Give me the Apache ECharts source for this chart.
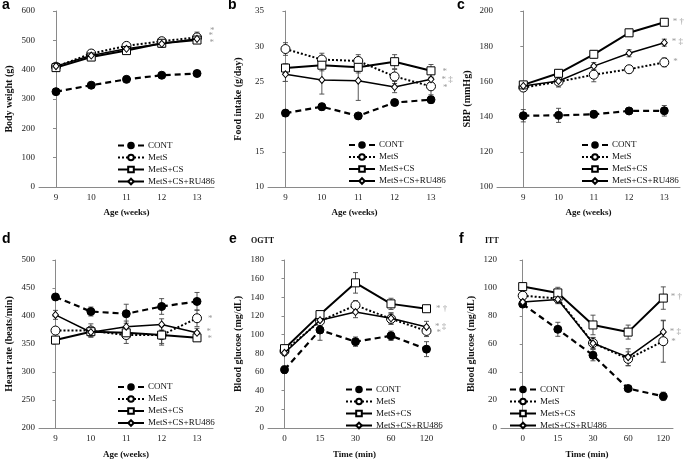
<!DOCTYPE html>
<html>
<head>
<meta charset="utf-8">
<script src="https://cdn.jsdelivr.net/npm/echarts@6/dist/echarts.min.js"></script>
<style>
  html, body { margin: 0; padding: 0; background: #fff; }
  #chart { width: 685px; height: 460px; }
</style>
</head>
<body>
<div id="chart"></div>
<script>
// groups and category labels
const groups = ['CONT', 'MetS', 'MetS+CS', 'MetS+CS+RU486'];
const weekLabels = ['9', '10', '11', '12', '13'];
const timeLabels = ['0', '15', '30', '60', '120'];

// a - body weight (g), rows follow groups
const bwMean = [
    [325, 347, 367, 381, 387],
    [410, 455, 481, 497, 510],
    [407, 443, 465, 490, 501],
    [412, 448, 471, 488, 505]
];
const bwErr = [
    [5, 6, 6, 6, 6],
    [8, 8, 10, 10, 18],
    [6, 8, 10, 14, 10],
    [6, 6, 8, 8, 10]
];
const bwSig = ['', '*', '*', '*'];

// b - food intake (g/day)
const fiMean = [
    [20.5, 21.4, 20.1, 22.0, 22.4],
    [29.6, 28.1, 27.9, 25.7, 24.3],
    [26.9, 27.3, 27.0, 27.8, 26.5],
    [26.0, 25.2, 25.1, 24.2, 25.3]
];
const fiErr = [
    [0.3, 0.5, 0.3, 0.4, 0.5],
    [0.9, 0.9, 0.9, 1.0, 1.2],
    [0.6, 0.8, 0.8, 1.0, 0.9],
    [1.0, 2.0, 2.8, 0.8, 1.2]
];
const fiSig = ['', '*', '*', '* \u2021'];

// c - SBP (mmHg)
const sbpMean = [
    [140.5, 140.7, 141.3, 143.2, 143.3],
    [156.5, 159.8, 163.8, 166.9, 170.8],
    [158.0, 164.6, 175.4, 187.6, 193.6],
    [157.4, 160.2, 168.7, 176.0, 182.0]
];
const sbpErr = [
    [3.5, 4, 2, 1.5, 3],
    [2, 3, 4, 2, 2.5],
    [2, 2, 2, 2, 2],
    [2, 2, 2, 2, 2]
];
const sbpSig = ['', '*', '* \u2020', '* \u2021'];

// d - heart rate (beats/min)
const hrMean = [
    [434, 408, 404, 417, 426],
    [374, 374, 366, 366, 396],
    [357, 372, 370, 366, 361],
    [402, 371, 381, 385, 370]
];
const hrErr = [
    [5, 8, 17, 14, 16],
    [6, 12, 15, 15, 15],
    [5, 8, 10, 18, 5],
    [8, 8, 10, 10, 8]
];
const hrSig = ['', '*', '*', '*'];

// e - OGTT blood glucose (mg/dL)
const ogttMean = [
    [62.5, 105, 92.5, 98.8, 84.5],
    [82.5, 114.5, 131.5, 117, 104],
    [85.0, 121.5, 155.5, 133, 127.8],
    [80.5, 115.5, 124.2, 117.5, 108.3]
];
const ogttErr = [
    [4, 11, 5, 5, 8],
    [3, 5, 5, 6, 6],
    [4, 4, 11, 6, 3],
    [3, 4, 6, 6, 6]
];
const ogttSig = ['', '*', '* \u2020', '* \u2021'];

// f - ITT blood glucose (mg/dL)
const ittMean = [
    [88.5, 70.5, 52, 28.2, 22.6],
    [94.5, 92.5, 60.7, 49.4, 62],
    [101, 96.5, 73.6, 68.5, 92.8],
    [90, 91.8, 60.5, 50.6, 68.6]
];
const ittErr = [
    [2, 5, 4, 2, 3],
    [3, 3, 4, 5, 15],
    [2, 4, 7, 5, 8],
    [3, 3, 4, 6, 8]
];
const ittSig = ['', '*', '* \u2020', '* \u2021'];

const SERIF = 'Liberation Serif';

// layout of each panel (pixel positions)
const panels = [
    { letter: 'a', lx: 2, ly: 6, mean: bwMean, err: bwErr, sig: bwSig, cats: weekLabels,
      xName: 'Age (weeks)', yName: 'Body weight (g)', yMin: 0, yMax: 600, yStep: 100,
      grid: { left: 39, top: 11, width: 175, height: 176 }, xMin: -0.482, xMax: 4.482,
      legend: { left: 117, top: 141 }, sigDist: 8, sigDy: [0, -7, 3, -3] },
    { letter: 'b', lx: 228, ly: 6, mean: fiMean, err: fiErr, sig: fiSig, cats: weekLabels,
      xName: 'Age (weeks)', yName: 'Food intake (g/day)', yMin: 10, yMax: 35, yStep: 5,
      grid: { left: 268, top: 11, width: 173, height: 176 }, xMin: -0.481, xMax: 4.275,
      legend: { left: 348, top: 140.5 }, sigDist: 7, sigDy: [0, 1, 1, 0] },
    { letter: 'c', lx: 457, ly: 6, mean: sbpMean, err: sbpErr, sig: sbpSig, cats: weekLabels,
      xName: 'Age (weeks)', yName: 'SBP (mmHg)', yMin: 100, yMax: 200, yStep: 20,
      grid: { left: 497, top: 11, width: 183, height: 176 }, xMin: -0.746, xMax: 4.445,
      legend: { left: 581, top: 140.5 }, sigDist: 4, sigDy: [0, -1, -1, -1] },
    { letter: 'd', lx: 2, ly: 240, mean: hrMean, err: hrErr, sig: hrSig, cats: weekLabels,
      xName: 'Age (weeks)', yName: 'Heart rate (beats/min)', yMin: 200, yMax: 500, yStep: 50,
      grid: { left: 39, top: 260, width: 174, height: 170 }, xMin: -0.466, xMax: 4.452,
      legend: { left: 117, top: 382.5 }, sigDist: 6, sigDy: [0, 0, 1, -1] },
    { letter: 'e', lx: 229, ly: 240, title: 'OGTT', tx: 251, mean: ogttMean, err: ogttErr, sig: ogttSig, cats: timeLabels,
      xName: 'Time (min)', yName: 'Blood glucose (mg/dL)', yMin: 0, yMax: 180, yStep: 20,
      grid: { left: 268, top: 260, width: 173, height: 170 }, xMin: -0.465, xMax: 4.408,
      legend: { left: 345, top: 385 }, sigDist: 5, sigDy: [0, 2, 0, 0] },
    { letter: 'f', lx: 459, ly: 240, title: 'ITT', tx: 485, mean: ittMean, err: ittErr, sig: ittSig, cats: timeLabels,
      xName: 'Time (min)', yName: 'Blood glucose (mg/dL)', yMin: 0, yMax: 120, yStep: 20,
      grid: { left: 501, top: 260, width: 172, height: 170 }, xMin: -0.617, xMax: 4.276,
      legend: { left: 509, top: 385 }, sigDist: 3, sigDy: [0, 0, -1, 0] }
];

// marker / line look for each group
const groupStyle = [
    { symbol: 'circle', symbolSize: 8, fill: '#000', line: { width: 2.2, type: [6, 4] } },
    { symbol: 'circle', symbolSize: 9, fill: '#fff', line: { width: 2, type: [2, 2] } },
    { symbol: 'rect', symbolSize: 8, fill: '#fff', line: { width: 2, type: 'solid' } },
    { symbol: 'diamond', symbolSize: [6, 7], fill: '#fff', line: { width: 1.5, type: 'solid' } }
];

const chartDom = document.getElementById('chart');
const myChart = echarts.init(chartDom);

const grids = [], xAxes = [], yAxes = [], series = [], legends = [], graphics = [];

panels.forEach((p, pi) => {
    grids.push(Object.assign({ containLabel: false }, p.grid));

    xAxes.push({
        type: 'value', gridIndex: pi, min: p.xMin, max: p.xMax,
        name: p.xName, nameLocation: 'middle', nameGap: pi < 3 ? 21 : 22,
        nameTextStyle: { fontFamily: SERIF, fontWeight: 'bold', fontSize: 9, color: '#111' },
        axisLine: { lineStyle: { color: '#8a8a8a', width: 1 } },
        axisTick: { show: false },
        splitLine: { show: false },
        axisLabel: {
            customValues: [0, 1, 2, 3, 4],
            formatter: v => p.cats[Math.round(v)],
            fontFamily: SERIF, fontSize: 9, color: '#222', margin: 6
        }
    });

    yAxes.push({
        type: 'value', gridIndex: pi, min: p.yMin, max: p.yMax, interval: p.yStep,
        name: p.yName, nameLocation: 'middle', nameGap: 25,
        nameTextStyle: { fontFamily: SERIF, fontWeight: 'bold', fontSize: 10, color: '#111' },
        axisLine: { show: true, lineStyle: { color: '#8a8a8a', width: 1 } },
        axisTick: { show: true, length: 3, lineStyle: { color: '#8a8a8a' } },
        splitLine: { show: false },
        axisLabel: { fontFamily: SERIF, fontSize: 9, color: '#222', margin: 4 }
    });

    // error bars (drawn under the markers)
    const errData = [];
    p.mean.forEach((row, g) => {
        row.forEach((v, i) => errData.push([i, v - p.err[g][i], v + p.err[g][i]]));
    });
    series.push({
        type: 'custom', name: 'err' + pi, xAxisIndex: pi, yAxisIndex: pi, z: 1, silent: true,
        encode: { x: 0, y: [1, 2] },
        data: errData,
        renderItem: (params, api) => {
            const x = api.value(0);
            const lo = api.coord([x, api.value(1)]);
            const hi = api.coord([x, api.value(2)]);
            const w = 2.5;
            const st = { stroke: '#444', lineWidth: 0.9 };
            return {
                type: 'group',
                children: [
                    { type: 'line', shape: { x1: lo[0], y1: lo[1], x2: hi[0], y2: hi[1] }, style: st },
                    { type: 'line', shape: { x1: hi[0] - w, y1: hi[1], x2: hi[0] + w, y2: hi[1] }, style: st },
                    { type: 'line', shape: { x1: lo[0] - w, y1: lo[1], x2: lo[0] + w, y2: lo[1] }, style: st }
                ]
            };
        }
    });

    p.mean.forEach((row, g) => {
        const gs = groupStyle[g];
        const data = row.map((v, i) => {
            if (i === row.length - 1 && p.sig[g]) {
                return {
                    value: [i, v],
                    label: {
                        show: true, formatter: p.sig[g], position: 'right',
                        distance: p.sigDist, offset: [0, p.sigDy[g]],
                        color: '#9a9a9a', fontSize: 9, fontFamily: SERIF
                    }
                };
            }
            return [i, v];
        });
        series.push({
            type: 'line', name: groups[g], xAxisIndex: pi, yAxisIndex: pi, z: 3 + g,
            data: data,
            symbol: gs.symbol, symbolSize: gs.symbolSize,
            itemStyle: { color: gs.fill, borderColor: '#000', borderWidth: 1 },
            lineStyle: { color: '#000', width: gs.line.width, type: gs.line.type },
            emphasis: { disabled: true }
        });
    });

    legends.push({
        data: groups, orient: 'vertical', left: p.legend.left, top: p.legend.top,
        itemWidth: 26, itemHeight: 7, itemGap: 3, padding: 0, selectedMode: false,
        textStyle: { fontFamily: SERIF, fontSize: 9, color: '#111', padding: [0, 0, 0, -1] }
    });

    graphics.push({
        type: 'text', left: p.lx, top: p.ly - 8,
        style: { text: p.letter, font: 'bold 14px "Liberation Sans"', fill: '#000' }
    });
    if (p.title) {
        graphics.push({
            type: 'text', left: p.tx, top: 237,
            style: { text: p.title, font: 'bold 8px "Liberation Serif"', fill: '#111' }
        });
    }
});

const option = {
    animation: false,
    backgroundColor: '#fff',
    textStyle: { fontFamily: SERIF },
    grid: grids,
    xAxis: xAxes,
    yAxis: yAxes,
    legend: legends,
    graphic: graphics,
    series: series
};

myChart.setOption(option);

window.addEventListener('resize', () => {
    myChart.resize();
});
</script>
</body>
</html>
